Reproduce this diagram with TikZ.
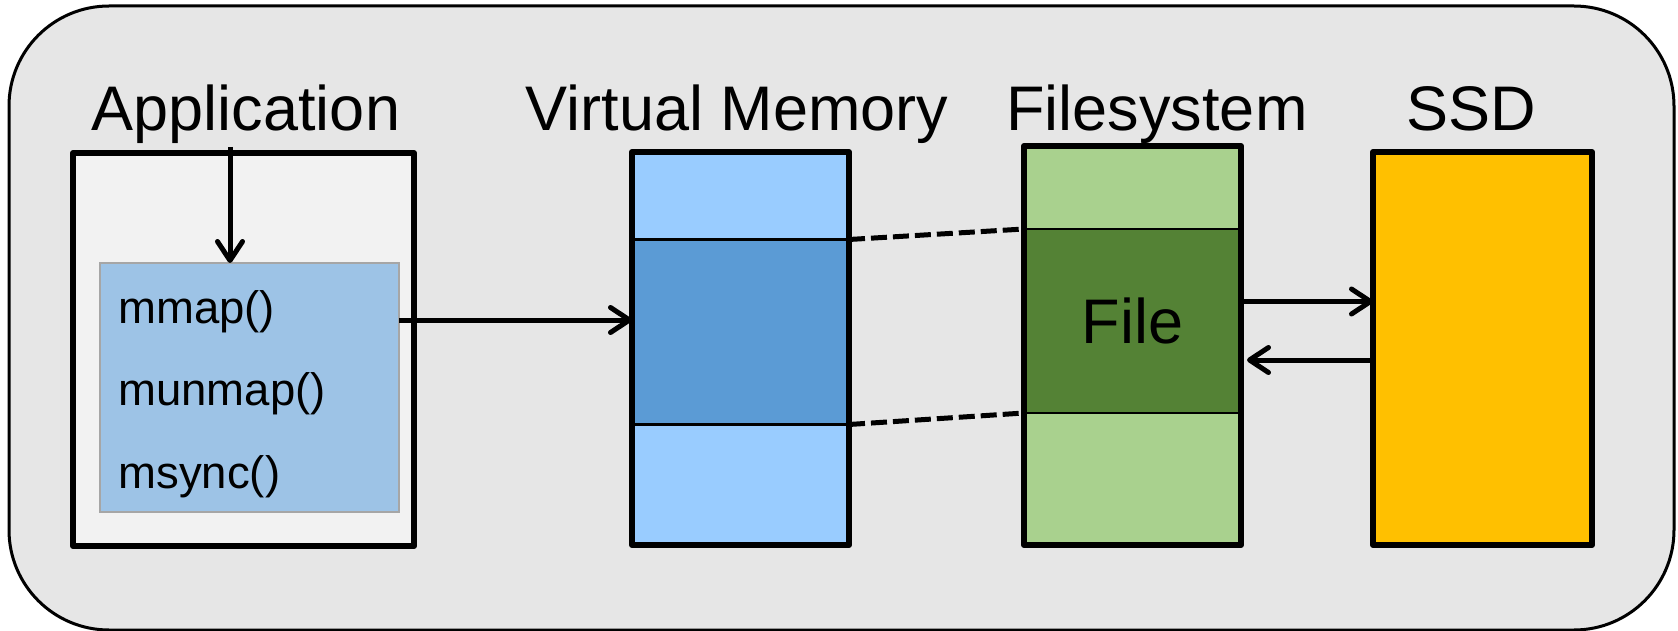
\documentclass[tikz,border=0pt]{standalone}
\usepackage{fontspec}
\setmainfont{Liberation Sans}
\usetikzlibrary{arrows.meta}

\definecolor{panelgray}{HTML}{E6E6E6}
\definecolor{appgray}{HTML}{F2F2F2}
\definecolor{callblue}{HTML}{9DC3E6}
\definecolor{callborder}{HTML}{A6A6A6}
\definecolor{vmlight}{HTML}{99CCFF}
\definecolor{vmdark}{HTML}{5B9BD5}
\definecolor{fslight}{HTML}{A9D18E}
\definecolor{fsdark}{HTML}{548235}
\definecolor{ssdgold}{HTML}{FFC000}

\tikzset{
  title/.style={anchor=base, inner sep=0pt, font=\fontsize{31.5}{36}\selectfont},
  call/.style={anchor=base west, inner sep=0pt, font=\fontsize{22.75}{26}\selectfont},
  column/.style={draw=black, line width=3pt, line join=round, inner sep=0pt, outer sep=0pt, minimum width=108.5pt, minimum height=196.5pt},
  band/.style={inner sep=0pt, outer sep=0pt, minimum width=105.5pt},
  divider/.style={line width=1.2pt},
  arr/.style={-{Straight Barb[length=9.5pt,width=12.5pt,round]}, line width=2.5pt},
  link/.style={dash pattern=on 8pt off 3pt, line width=2.5pt}
}

\begin{document}
\begin{tikzpicture}[x=0.5pt, y=-0.5pt]
    \useasboundingbox (0,0) rectangle (1678,631);
    \draw[fill=panelgray, line width=1.5pt, rounded corners=50pt] (9,6) rectangle (1674,630);

    %application
    \node[title] (apptitle) at (246,131) {Application};
    \node[column, fill=appgray, minimum width=170.5pt] (app) at (243.5,349.5) {};
    \node[draw=callborder, line width=1pt, fill=callblue, inner sep=0pt, outer sep=0pt, minimum width=149.5pt, minimum height=124.5pt] (calls) at (249.5,387.5) {};
    \node[call] (mmap) at (118,323) {mmap()};
    \node[call] (munmap) at (118,405) {munmap()};
    \node[call] (msync) at (118,488) {msync()};
    \coordinate (appin) at (230,147);
    \draw[arr] (appin) -- (appin |- calls.north);

    %virtual memory
    \node[title] (vmtitle) at (737,131) {Virtual Memory};
    \node[column, fill=vmlight] (vm) at (740.5,348.5) {};
    \node[band, fill=vmdark, minimum height=92.5pt] (vmmid) at (740.5,332) {};
    \draw[divider] (vmmid.north -| vm.west) -- (vmmid.north -| vm.east);
    \draw[divider] (vmmid.south -| vm.west) -- (vmmid.south -| vm.east);
    \coordinate (callsout) at (399,320);
    \draw[arr] (callsout) -- (callsout -| vm.west);

    %filesystem
    \node[title] (fstitle) at (1157,131) {Filesystem};
    \node[column, fill=fslight, minimum height=199.5pt] (fs) at (1132.5,345.5) {};
    \node[band, fill=fsdark, minimum height=92pt] (fsmid) at (1132.5,321) {};
    \draw[divider] (fsmid.north -| fs.west) -- (fsmid.north -| fs.east);
    \draw[divider] (fsmid.south -| fs.west) -- (fsmid.south -| fs.east);
    \node[font=\fontsize{31.5}{36}\selectfont] (file) at (fsmid) {File};
    \draw[link] (vmmid.north -| vm.east) -- (fsmid.north -| fs.west);
    \draw[link] (vmmid.south -| vm.east) -- (fsmid.south -| fs.west);

    %ssd
    \node[title] (ssdtitle) at (1471,131) {SSD};
    \node[column, fill=ssdgold, minimum width=109.5pt] (ssd) at (1482.5,348.5) {};
    \draw[arr] ([yshift=22pt]fs.east) -- ([yshift=22pt]fs.east -| ssd.west);
    \draw[arr] ([yshift=-5.75pt]ssd.west) -- ([yshift=-5.75pt,xshift=3pt]ssd.west -| fs.east);
\end{tikzpicture}
\end{document}
